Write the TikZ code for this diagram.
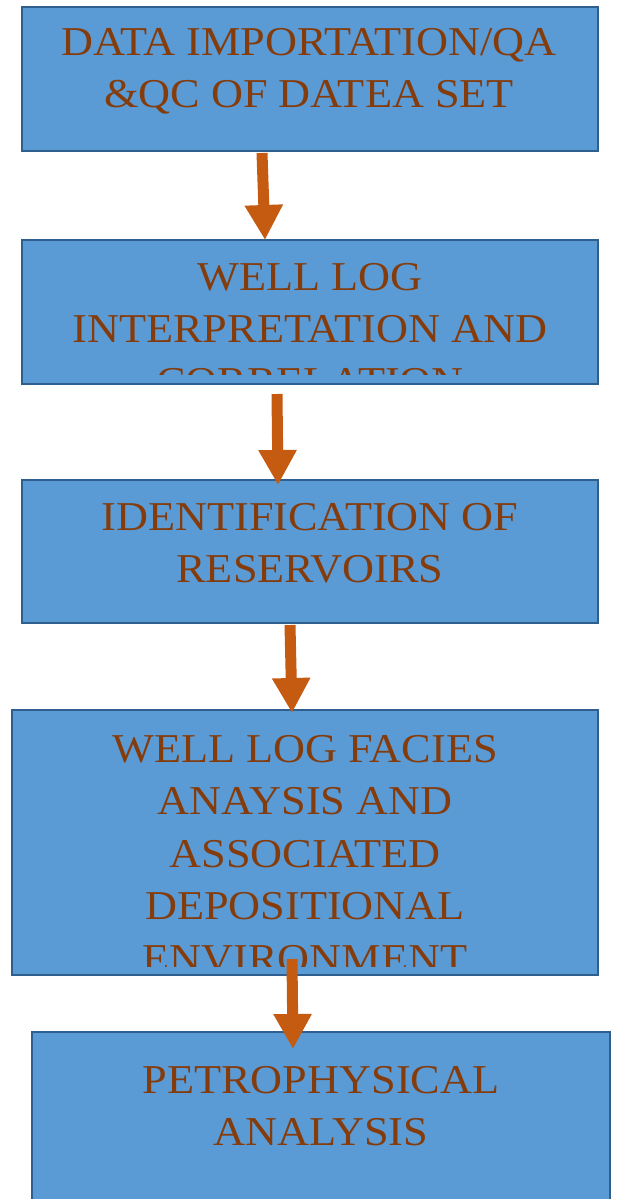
\documentclass[tikz,border=0pt]{standalone}
\usepackage{fontspec}
\setmainfont[FakeStretch=1.08]{Liberation Serif}
\usetikzlibrary{arrows.meta}
\definecolor{boxfill}{HTML}{5B9BD5}
\definecolor{boxline}{HTML}{2F5F8F}
\definecolor{txtbrown}{HTML}{843C0C}
\definecolor{arrorange}{HTML}{C55A11}
\tikzset{
	stepbox/.style={draw=boxline, fill=boxfill, line width=2pt, inner sep=0pt},
	steptext/.style={anchor=north, inner sep=0pt, align=center, text=txtbrown,
		font=\fontsize{41}{52.5}\selectfont},
	flow/.style={draw=arrorange, line width=11pt, -{Triangle[width=36pt,length=35pt]}}
}
\begin{document}
\begin{tikzpicture}[x=1pt,y=-1pt]
		\clip (0,0) rectangle (616,1199);
		\fill[white] (0,0) rectangle (616,1199);
		
		% boxes
		\node[stepbox, minimum width=576pt, minimum height=144pt] (B1) at (310,79) {};
		\node[stepbox, minimum width=576pt, minimum height=144pt] (B2) at (310,312) {};
		\node[stepbox, minimum width=576pt, minimum height=143pt] (B3) at (310,551.5) {};
		\node[stepbox, minimum width=586pt, minimum height=265pt] (B4) at (305,842.5) {};
		\node[stepbox, minimum width=578pt, minimum height=186pt] (B5) at (321,1125) {};
		
		% texts
		\node[steptext] (T1) at (309,28) {DATA IMPORTATION/QA\\\&QC OF DATEA SET};
		\begin{scope}
			\clip ([yshift=11pt]B2.south west) rectangle (B2.north east);
			\node[steptext] (T2) at (310,263) {WELL LOG\\INTERPRETATION AND\\CORRELATION};
		\end{scope}
		\node[steptext] (T3) at (310,503) {IDENTIFICATION OF\\RESERVOIRS};
		\begin{scope}
			\clip ([yshift=10pt]B4.south west) rectangle (B4.north east);
			\node[steptext] (T4) at (305,735) {WELL LOG FACIES\\ANAYSIS AND\\ASSOCIATED\\DEPOSITIONAL\\ENVIRONMENT};
		\end{scope}
		\node[steptext] (T5) at (321,1066) {PETROPHYSICAL\\ANALYSIS};
		
		% arrows
		\draw[flow] ([xshift=-48pt,yshift=-1pt]B1.south) to ([xshift=-45pt,yshift=-1pt]B2.north);
		\draw[flow] ([xshift=-33pt,yshift=-9pt]B2.south) to ([xshift=-32pt,yshift=-6pt]B3.north);
		\draw[flow] ([xshift=-20pt,yshift=-1pt]B3.south) to ([xshift=-13pt,yshift=-4pt]B4.north);
		\draw[flow] ([xshift=-13pt,yshift=17pt]B4.south) to ([xshift=-28pt,yshift=-18pt]B5.north);
\end{tikzpicture}
\end{document}
